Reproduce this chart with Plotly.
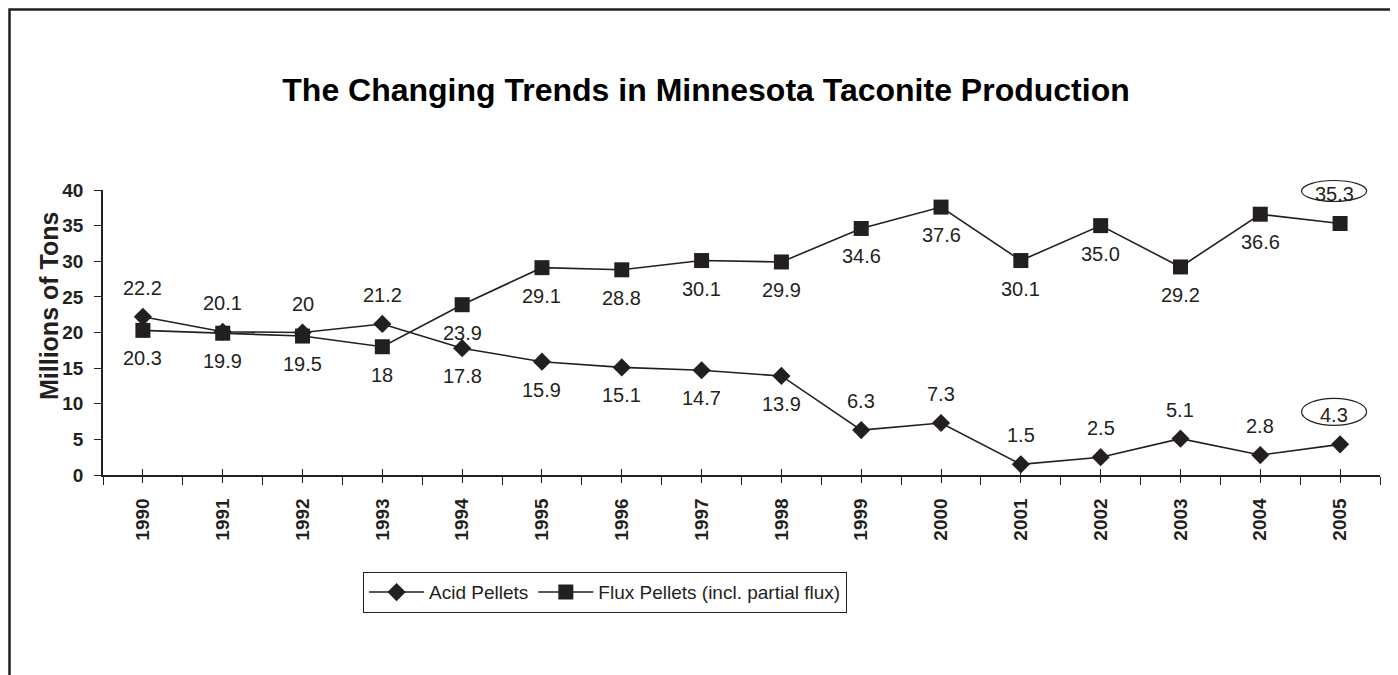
import plotly.graph_objects as go

years = [1990, 1991, 1992, 1993, 1994, 1995, 1996, 1997, 1998, 1999, 2000, 2001, 2002, 2003, 2004, 2005]
acid = [22.2, 20.1, 20, 21.2, 17.8, 15.9, 15.1, 14.7, 13.9, 6.3, 7.3, 1.5, 2.5, 5.1, 2.8, 4.3]
flux = [20.3, 19.9, 19.5, 18, 23.9, 29.1, 28.8, 30.1, 29.9, 34.6, 37.6, 30.1, 35.0, 29.2, 36.6, 35.3]
acid_text = ["22.2", "20.1", "20", "21.2", "17.8", "15.9", "15.1", "14.7", "13.9", "6.3", "7.3", "1.5", "2.5", "5.1", "2.8", "4.3"]
flux_text = ["20.3", "19.9", "19.5", "18", "23.9", "29.1", "28.8", "30.1", "29.9", "34.6", "37.6", "30.1", "35.0", "29.2", "36.6", "35.3"]
acid_side = ["above"] * 4 + ["below"] * 5 + ["above"] * 7
flux_side = ["below"] * 15 + ["above"]
y_ticks = [0, 5, 10, 15, 20, 25, 30, 35, 40]

INK = "#231f20"
FONT = "Liberation Sans, Arial, sans-serif"

X_MIN, X_MAX = 1989.5, 2005.5
Y_MIN, Y_MAX = 0, 40

# plot area in figure pixels
L, T, PW, PH = 95, 182, 1277, 285
W, H = 1390, 667

fig = go.Figure()
fig.add_trace(go.Scatter(
    x=years, y=acid, mode="lines+markers", name="Acid Pellets",
    line=dict(color=INK, width=1.6),
    marker=dict(symbol="diamond", size=14, color=INK),
))
fig.add_trace(go.Scatter(
    x=years, y=flux, mode="lines+markers", name="Flux Pellets (incl. partial flux)",
    line=dict(color=INK, width=1.6),
    marker=dict(symbol="square", size=15, color=INK),
))
# dummy trace on overlay axis for the inner half of the crossing tick marks
fig.add_trace(go.Scatter(x=years, y=acid, xaxis="x2", mode="none",
                         showlegend=False, hoverinfo="skip"))

annotations = []
shapes = []
last = len(years) - 1
for vals, texts, sides in ((acid, acid_text, acid_side), (flux, flux_text, flux_side)):
    for i, (xv, yv, t, s) in enumerate(zip(years, vals, texts, sides)):
        shift = 29 if s == "above" else -28
        xs = -6 if i == last else 0
        annotations.append(dict(
            x=xv, y=yv, xref="x", yref="y", text=t, showarrow=False,
            yshift=shift, xshift=xs, font=dict(family=FONT, size=20, color=INK),
        ))
    # ellipse around the final value (paper refs so it is not clipped)
    h = 21 if vals is flux else 27
    shapes.append(dict(
        type="circle", xref="paper", yref="paper",
        xsizemode="pixel", ysizemode="pixel",
        xanchor=(years[last] - X_MIN) / (X_MAX - X_MIN),
        yanchor=(vals[last] - Y_MIN) / (Y_MAX - Y_MIN),
        x0=-6 - 32.5, x1=-6 + 32.5, y0=32.5 - h / 2, y1=32.5 + h / 2,
        line=dict(color=INK, width=1.2),
    ))

annotations.append(dict(
    x=-0.0548, y=0.593, xref="paper", yref="paper", text="<b>Millions of Tons</b>",
    textangle=-90, showarrow=False, font=dict(family=FONT, size=25, color=INK),
))

shapes.append(dict(
    type="rect", xref="paper", yref="paper",
    x0=(1.5 - L) / PW, x1=(1384 - L) / PW,
    y0=-0.95, y1=(T + PH - 1.5) / PH,
    line=dict(color=INK, width=2.5), fillcolor="rgba(0,0,0,0)",
))

fig.update_layout(
    width=W, height=H,
    paper_bgcolor="white", plot_bgcolor="white",
    margin=dict(l=L, r=W - L - PW, t=T, b=H - T - PH, autoexpand=False),
    font=dict(family=FONT, color=INK),
    title=dict(
        text="<b>The Changing Trends in Minnesota Taconite Production</b>",
        x=698 / W, xanchor="center", xref="container",
        y=1 - 82 / H, yanchor="middle", yref="container",
        font=dict(family=FONT, size=32, color="black"),
    ),
    xaxis=dict(
        range=[X_MIN, X_MAX], tickmode="linear", tick0=1990, dtick=1,
        showline=True, linecolor=INK, linewidth=1.6,
        ticks="outside", ticklen=6, tickwidth=1.4, tickcolor=INK,
        tickangle=-90, tickfont=dict(family=FONT, size=19, color=INK),
        ticklabelstandoff=8,
        tickprefix="<b>", ticksuffix="</b>",
        minor=dict(tick0=X_MIN, dtick=1, ticks="outside", ticklen=8,
                   tickwidth=1.4, tickcolor=INK, showgrid=False),
        showgrid=False, zeroline=False,
    ),
    xaxis2=dict(
        range=[X_MIN, X_MAX], overlaying="x", anchor="y", side="bottom",
        tickmode="linear", tick0=1990, dtick=1, ticks="inside", ticklen=6,
        tickwidth=1.4, tickcolor=INK, showticklabels=False, showline=False,
        showgrid=False, zeroline=False,
    ),
    yaxis=dict(
        range=[Y_MIN, Y_MAX], tickmode="array", tickvals=y_ticks,
        ticktext=[f"<b>{v}</b>" for v in y_ticks],
        showline=True, linecolor=INK, linewidth=1.6,
        ticks="outside", ticklen=7, tickwidth=1.4, tickcolor=INK,
        tickfont=dict(family=FONT, size=19, color=INK),
        ticklabelstandoff=7,
        showgrid=False, zeroline=False,
    ),
    legend=dict(
        orientation="h", x=0.393, xanchor="center",
        y=-97 / PH, yanchor="top",
        bordercolor=INK, borderwidth=1.2, bgcolor="white",
        font=dict(family=FONT, size=19, color=INK),
        itemwidth=55, tracegroupgap=0,
    ),
    annotations=annotations,
    shapes=shapes,
    showlegend=True,
)

fig.write_html("out.html")
